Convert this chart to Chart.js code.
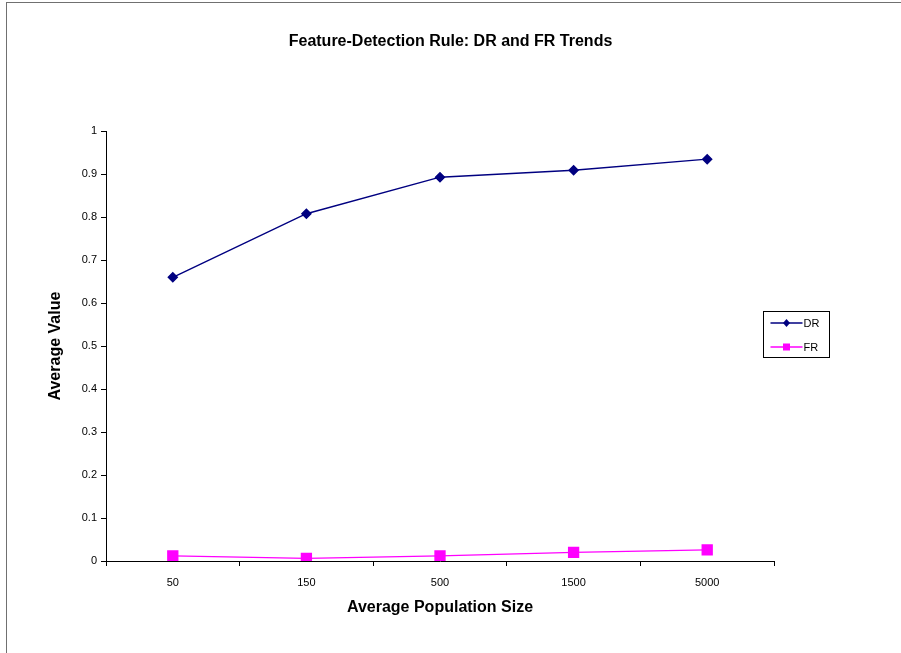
<!DOCTYPE html>
<html>
<head>
<meta charset="utf-8">
<script src="https://cdn.jsdelivr.net/npm/chart.js@4"></script>
<style>
  html, body { margin: 0; padding: 0; background: #fff; }
  #wrap { position: relative; width: 901px; height: 653px; overflow: hidden; }
  #frame { position: absolute; left: 6px; top: 2px; width: 1000px; height: 1000px;
           border-left: 1px solid #707070; border-top: 1px solid #707070; box-sizing: border-box; }
  canvas { position: absolute; left: 0; top: 0; }
</style>
</head>
<body>
<div id="wrap">
  <div id="frame"></div>
  <canvas id="c" width="901" height="653"></canvas>
</div>
<script>
const categories = ['50', '150', '500', '1500', '5000'];
const drValues = [0.660, 0.808, 0.893, 0.909, 0.935];
const frValues = [0.012, 0.006, 0.012, 0.020, 0.026];
const chartTitle = 'Feature-Detection Rule: DR and FR Trends';
const xTitle = 'Average Population Size';
const yTitle = 'Average Value';

Chart.defaults.font.family = '"Liberation Sans", Arial, sans-serif';
Chart.defaults.color = '#000';

const legendPlugin = {
  id: 'boxLegend',
  afterDraw(chart) {
    const ctx = chart.ctx;
    const a = chart.chartArea;
    const x0 = a.right - 10.5, y0 = 311.5, w = 66, h = 46;
    ctx.save();
    ctx.strokeStyle = '#000';
    ctx.lineWidth = 1;
    ctx.strokeRect(x0, y0, w, h);
    chart.data.datasets.forEach((ds, i) => {
      const y = y0 + 11.5 + i * 24;
      ctx.strokeStyle = ds.borderColor;
      ctx.lineWidth = 1.3;
      ctx.beginPath();
      ctx.moveTo(x0 + 7, y);
      ctx.lineTo(x0 + 39, y);
      ctx.stroke();
      ctx.fillStyle = ds.pointBackgroundColor;
      const cx = x0 + 23;
      if (ds.pointStyle === 'rectRot') {
        ctx.beginPath();
        ctx.moveTo(cx, y - 4); ctx.lineTo(cx + 3.5, y); ctx.lineTo(cx, y + 4); ctx.lineTo(cx - 3.5, y);
        ctx.closePath(); ctx.fill();
      } else {
        ctx.fillRect(cx - 3.5, y - 3.5, 7, 7);
      }
      ctx.fillStyle = '#000';
      ctx.font = '11px "Liberation Sans", Arial, sans-serif';
      ctx.textBaseline = 'middle';
      ctx.textAlign = 'left';
      ctx.fillText(ds.label, x0 + 40, y + 0.5);
    });
    ctx.restore();
  }
};

new Chart(document.getElementById('c'), {
  type: 'line',
  data: {
    labels: categories,
    datasets: [
      { label: 'DR', data: drValues, borderColor: '#000080', backgroundColor: '#000080',
        pointBackgroundColor: '#000080', pointBorderColor: '#000080', pointStyle: 'rectRot',
        pointRadius: 4.5, borderWidth: 1.4, tension: 0, fill: false },
      { label: 'FR', data: frValues, borderColor: '#FF00FF', backgroundColor: '#FF00FF',
        pointBackgroundColor: '#FF00FF', pointBorderColor: '#FF00FF', pointStyle: 'rect',
        pointRadius: 7, borderWidth: 1.4, tension: 0, fill: false }
    ]
  },
  options: {
    responsive: false,
    animation: false,
    devicePixelRatio: 1,
    layout: { padding: { left: 0, right: 0, top: 0, bottom: 36 } },
    plugins: {
      legend: { display: false },
      tooltip: { enabled: false },
      title: {
        display: true, text: chartTitle,
        font: { size: 16, weight: 'bold' },
        padding: { top: 32, bottom: 80 }
      }
    },
    scales: {
      x: {
        type: 'category', offset: true,
        grid: { display: true, offset: true, drawOnChartArea: false, tickLength: 5, color: '#000' },
        border: { display: true, color: '#000', width: 1 },
        ticks: { font: { size: 11 }, padding: 10, maxRotation: 0 },
        title: { display: true, text: xTitle, font: { size: 16, weight: 'bold' }, padding: { top: 0, bottom: 0 } },
        afterFit(s) { s.height = 56; }
      },
      y: {
        position: 'left', min: 0, max: 1,
        grid: { display: true, drawOnChartArea: false, tickLength: 5, color: '#000' },
        border: { display: true, color: '#000', width: 1 },
        ticks: { stepSize: 0.1, font: { size: 11 }, padding: 4,
                 callback: (v) => String(Number(v.toFixed(1))) },
        title: { display: true, text: yTitle, font: { size: 16, weight: 'bold' }, padding: { top: 46, bottom: 0 } },
        afterFit(s) { s.width = 106; }
      },
      yRight: {
        position: 'right', display: true,
        grid: { display: false }, border: { display: false },
        ticks: { display: false },
        afterFit(s) { s.width = 127; }
      }
    }
  },
  plugins: [legendPlugin]
});
</script>
</body>
</html>
